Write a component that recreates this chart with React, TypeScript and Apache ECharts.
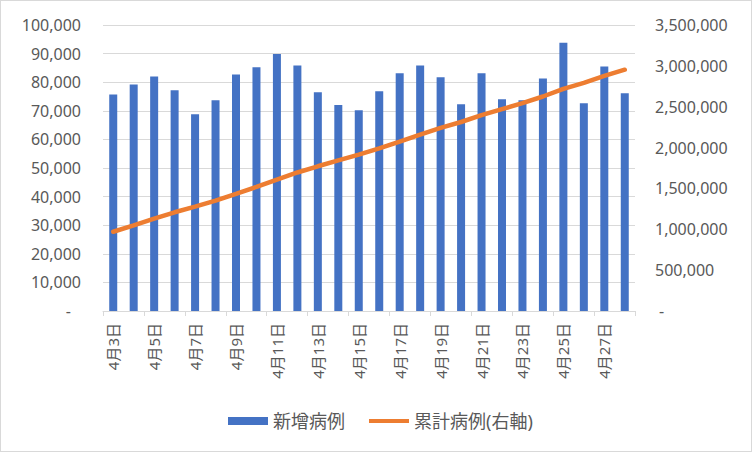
import React, { useEffect, useRef } from "react";
import * as echarts from "echarts";

const categories = [
  "4月3日", "4月4日", "4月5日", "4月6日", "4月7日", "4月8日", "4月9日", "4月10日",
  "4月11日", "4月12日", "4月13日", "4月14日", "4月15日", "4月16日", "4月17日", "4月18日",
  "4月19日", "4月20日", "4月21日", "4月22日", "4月23日", "4月24日", "4月25日", "4月26日",
  "4月27日", "4月28日",
];

const newCases = [
  75700, 79200, 82000, 77200, 68800, 73700, 82700, 85200,
  89900, 85800, 76500, 72000, 70200, 76800, 83100, 85800,
  81700, 72300, 83100, 74000, 73700, 81300, 93800, 72600,
  85500, 76100,
];

const cumulativeCases = [
  970000, 1049000, 1131000, 1208000, 1277000, 1351000, 1434000, 1519000,
  1609000, 1695000, 1771000, 1843000, 1913000, 1990000, 2073000, 2159000,
  2241000, 2313000, 2396000, 2470000, 2544000, 2625000, 2719000, 2792000,
  2877000, 2953000,
];

const seriesNames = ["新增病例", "累計病例(右軸)"];

const FONT = "'Noto Sans', 'Noto Sans CJK JP', sans-serif";
const TEXT = "#595959";
const GRID = "#d9d9d9";

const fmt = (v: number) =>
  v === 0 ? "{d|-}" : v.toLocaleString("en-US");

const LINE_ICON = "path://M0,0 M0,2 L40,2 L40,6 L0,6 Z M40,8";

export default function App() {
  const ref = useRef<HTMLDivElement>(null);
  useEffect(() => {
    if (!ref.current) return;
    const chart = echarts.init(ref.current, null, { renderer: "svg" });
    chart.setOption({
      animation: false,
      textStyle: { fontFamily: FONT },
      grid: { left: 102, right: 116, top: 24, bottom: 140, containLabel: false },
      legend: {
        left: 222,
        top: 406,
        itemWidth: 40,
        itemHeight: 8,
        itemGap: 24,
        textStyle: { color: TEXT, fontSize: 18, fontFamily: FONT, padding: [0, 0, 0, 0] },
        data: [
          { name: seriesNames[0], icon: "rect" },
          { name: seriesNames[1], icon: LINE_ICON, itemStyle: { color: "#ED7D31" } },
        ],
      },
      xAxis: {
        type: "category",
        data: categories,
        boundaryGap: true,
        axisLine: { lineStyle: { color: GRID, width: 1 } },
        axisTick: { show: true, interval: 1, length: 5, lineStyle: { color: GRID } },
        axisLabel: {
          interval: 1,
          rotate: 90,
          color: TEXT,
          fontSize: 15,
          margin: 12,
          fontFamily: FONT,
        },
      },
      yAxis: [
        {
          type: "value",
          min: 0,
          max: 100000,
          interval: 10000,
          axisLine: { show: false },
          axisTick: { show: false },
          splitLine: { lineStyle: { color: GRID, width: 1 } },
          axisLabel: {
            color: TEXT,
            fontSize: 16,
            margin: 22,
            fontFamily: FONT,
            formatter: fmt,
            rich: { d: { color: TEXT, fontSize: 16, padding: [0, 10, 0, 0], fontFamily: FONT } },
          },
        },
        {
          type: "value",
          min: 0,
          max: 3500000,
          interval: 500000,
          position: "right",
          axisLine: { show: false },
          axisTick: { show: false },
          splitLine: { show: false },
          axisLabel: {
            color: TEXT,
            fontSize: 16,
            margin: 20,
            fontFamily: FONT,
            formatter: fmt,
            rich: { d: { color: TEXT, fontSize: 16, padding: [0, 0, 0, 4], fontFamily: FONT } },
          },
        },
      ],
      series: [
        {
          name: seriesNames[0],
          type: "bar",
          yAxisIndex: 0,
          data: newCases,
          barWidth: 8,
          itemStyle: { color: "#4472C4" },
        },
        {
          name: seriesNames[1],
          type: "line",
          yAxisIndex: 1,
          data: cumulativeCases,
          symbol: "none",
          lineStyle: { color: "#ED7D31", width: 4.5, cap: "round" },
          itemStyle: { color: "#ED7D31" },
        },
      ],
    });
    return () => chart.dispose();
  }, []);
  return (
    <div
      style={{
        position: "absolute",
        left: 0,
        top: 0,
        width: 752,
        height: 452,
        boxSizing: "border-box",
        border: "1px solid #d9d9d9",
        background: "#fff",
      }}
    >
      <div ref={ref} style={{ width: 750, height: 450 }} />
    </div>
  );
}
